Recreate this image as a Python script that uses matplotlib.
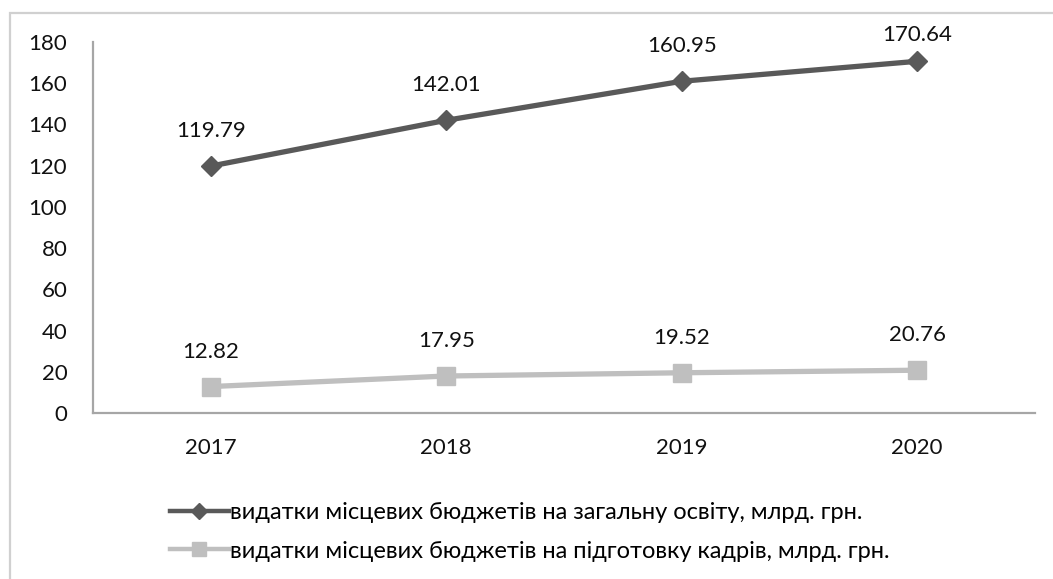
import matplotlib
matplotlib.use("Agg")
import matplotlib.pyplot as plt
from matplotlib.patches import Rectangle
from matplotlib.lines import Line2D

years = ["2017", "2018", "2019", "2020"]
general_edu = [119.79, 142.01, 160.95, 170.64]
training = [12.82, 17.95, 19.52, 20.76]
series_names = ["видатки місцевих бюджетів на загальну освіту, млрд. грн.",
                "видатки місцевих бюджетів на підготовку кадрів, млрд. грн."]
yticks = [0, 20, 40, 60, 80, 100, 120, 140, 160, 180]

plt.rcParams['font.family'] = ['Lato', 'DejaVu Sans']

W, H = 1053, 579
fig = plt.figure(figsize=(W/100, H/100), dpi=100)
fig.patches.append(Rectangle((10/W, -0.1), 1.2, (H-13)/H + 0.1, transform=fig.transFigure,
                             fill=False, edgecolor='#d0d0d0', lw=1.6))

ax = fig.add_axes([93/W, 1-413/H, (1035-93)/W, (413-42)/H])
x = list(range(len(years)))
dark = '#595959'
light = '#bfbfbf'
txt = '#111111'
ax.plot(x, general_edu, color=dark, lw=3.8, marker='D', ms=10, mec=dark, mfc=dark,
        label=series_names[0], clip_on=False)
ax.plot(x, training, color=light, lw=3.8, marker='s', ms=13, mec=light, mfc=light,
        label=series_names[1], clip_on=False)

fig.canvas.draw()
top_px = H - 33  # highest label centre allowed (px from bottom of figure)
for xi, v in zip(x, general_edu):
    px = ax.transData.transform((xi, v))[1]
    off = min(35, top_px - px)
    ax.annotate(f"{v:.2f}", (xi, v), xytext=(0, off * 0.72), textcoords='offset points',
                ha='center', va='center', fontsize=16, color=txt)
for xi, v in zip(x, training):
    ax.annotate(f"{v:.2f}", (xi, v), xytext=(0, 25), textcoords='offset points',
                ha='center', va='center', fontsize=16, color=txt)

ax.set_xlim(-0.5, len(years) - 0.5)
ax.set_ylim(0, 180)
ax.set_yticks(yticks)
ax.set_xticks(x)
ax.set_xticklabels(years)
ax.tick_params(axis='both', length=0, labelsize=16, colors=txt)
ax.tick_params(axis='y', pad=18.5)
ax.tick_params(axis='x', pad=18)
for s in ['top', 'right']:
    ax.spines[s].set_visible(False)
for s in ['left', 'bottom']:
    ax.spines[s].set_color('#a6a6a6')
    ax.spines[s].set_linewidth(1.6)

handles = [Line2D([], [], color=dark, lw=3.2, marker='D', ms=8),
           Line2D([], [], color=light, lw=3.2, marker='s', ms=10)]
fig.legend(handles, series_names, loc='upper left', bbox_to_anchor=(158/W, 1-490/H),
           frameon=False, fontsize=17, handlelength=2.5, handletextpad=0.05,
           labelspacing=0.75, borderpad=0)

fig.savefig("out.png", dpi=100, facecolor='white')
